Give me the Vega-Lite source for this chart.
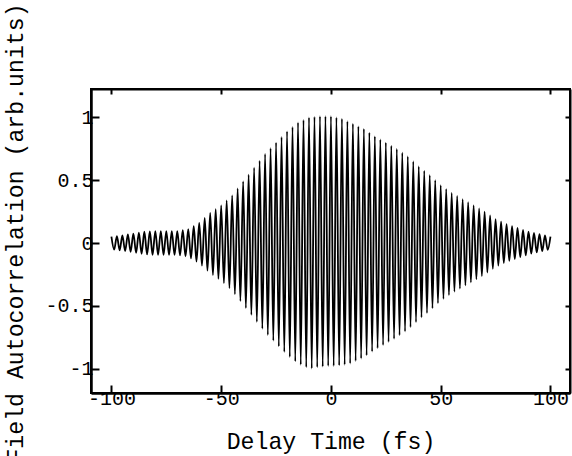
{
  "$schema": "https://vega.github.io/schema/vega-lite/v6.json",
  "width": 479,
  "height": 304,
  "autosize": {"type": "none"},
  "padding": {"left": 91, "top": 89, "right": 2, "bottom": 63},
  "background": "white",
  "config": {
    "view": {"stroke": "black", "strokeWidth": 2},
    "axis": {
      "domainColor": "black", "domainWidth": 2.5, "tickColor": "black", "tickWidth": 2,
      "grid": false, "labelFont": "Liberation Mono", "labelFontSize": 20, "labelColor": "black",
      "titleFont": "Liberation Mono", "titleFontSize": 23.2, "titleFontWeight": "normal", "titleColor": "black"
    }
  },
  "data": {"values": [
    {"t":-100,"v":0.05},{"t":-98.75,"v":-0.053},{"t":-97.5,"v":0.055},{"t":-96.25,"v":-0.058},
    {"t":-95,"v":0.06},{"t":-93.75,"v":-0.064},{"t":-92.5,"v":0.068},{"t":-91.25,"v":-0.071},
    {"t":-90,"v":0.075},{"t":-88.75,"v":-0.079},{"t":-87.5,"v":0.083},{"t":-86.25,"v":-0.086},
    {"t":-85,"v":0.09},{"t":-83.75,"v":-0.091},{"t":-82.5,"v":0.093},{"t":-81.25,"v":-0.094},
    {"t":-80,"v":0.095},{"t":-78.75,"v":-0.095},{"t":-77.5,"v":0.095},{"t":-76.25,"v":-0.095},
    {"t":-75,"v":0.095},{"t":-73.75,"v":-0.095},{"t":-72.5,"v":0.095},{"t":-71.25,"v":-0.095},
    {"t":-70,"v":0.095},{"t":-68.75,"v":-0.099},{"t":-67.5,"v":0.103},{"t":-66.25,"v":-0.106},
    {"t":-65,"v":0.11},{"t":-63.75,"v":-0.123},{"t":-62.5,"v":0.135},{"t":-61.25,"v":-0.148},
    {"t":-60,"v":0.16},{"t":-58.75,"v":-0.18},{"t":-57.5,"v":0.2},{"t":-56.25,"v":-0.22},
    {"t":-55,"v":0.24},{"t":-53.75,"v":-0.255},{"t":-52.5,"v":0.27},{"t":-51.25,"v":-0.285},
    {"t":-50,"v":0.3},{"t":-48.75,"v":-0.32},{"t":-47.5,"v":0.34},{"t":-46.25,"v":-0.36},
    {"t":-45,"v":0.38},{"t":-43.75,"v":-0.408},{"t":-42.5,"v":0.435},{"t":-41.25,"v":-0.463},
    {"t":-40,"v":0.49},{"t":-38.75,"v":-0.518},{"t":-37.5,"v":0.545},{"t":-36.25,"v":-0.573},
    {"t":-35,"v":0.6},{"t":-33.75,"v":-0.628},{"t":-32.5,"v":0.655},{"t":-31.25,"v":-0.683},
    {"t":-30,"v":0.71},{"t":-28.75,"v":-0.733},{"t":-27.5,"v":0.755},{"t":-26.25,"v":-0.778},
    {"t":-25,"v":0.8},{"t":-23.75,"v":-0.823},{"t":-22.5,"v":0.845},{"t":-21.25,"v":-0.868},
    {"t":-20,"v":0.89},{"t":-18.75,"v":-0.908},{"t":-17.5,"v":0.925},{"t":-16.25,"v":-0.943},
    {"t":-15,"v":0.96},{"t":-13.75,"v":-0.97},{"t":-12.5,"v":0.98},{"t":-11.25,"v":-0.99},
    {"t":-10,"v":1.0},{"t":-8.75,"v":-1.0},{"t":-7.5,"v":1.005},{"t":-6.25,"v":-0.99},
    {"t":-5,"v":1.01},{"t":-3.75,"v":-0.985},{"t":-2.5,"v":1.01},{"t":-1.25,"v":-0.98},
    {"t":0,"v":1.01},{"t":1.25,"v":-0.98},{"t":2.5,"v":1.0},{"t":3.75,"v":-0.975},
    {"t":5,"v":0.99},{"t":6.25,"v":-0.97},{"t":7.5,"v":0.97},{"t":8.75,"v":-0.96},
    {"t":10,"v":0.95},{"t":11.25,"v":-0.94},{"t":12.5,"v":0.93},{"t":13.75,"v":-0.92},
    {"t":15,"v":0.91},{"t":16.25,"v":-0.895},{"t":17.5,"v":0.88},{"t":18.75,"v":-0.865},
    {"t":20,"v":0.85},{"t":21.25,"v":-0.838},{"t":22.5,"v":0.825},{"t":23.75,"v":-0.813},
    {"t":25,"v":0.8},{"t":26.25,"v":-0.788},{"t":27.5,"v":0.775},{"t":28.75,"v":-0.763},
    {"t":30,"v":0.75},{"t":31.25,"v":-0.735},{"t":32.5,"v":0.72},{"t":33.75,"v":-0.705},
    {"t":35,"v":0.69},{"t":36.25,"v":-0.67},{"t":37.5,"v":0.65},{"t":38.75,"v":-0.63},
    {"t":40,"v":0.61},{"t":41.25,"v":-0.593},{"t":42.5,"v":0.575},{"t":43.75,"v":-0.558},
    {"t":45,"v":0.54},{"t":46.25,"v":-0.52},{"t":47.5,"v":0.5},{"t":48.75,"v":-0.48},
    {"t":50,"v":0.46},{"t":51.25,"v":-0.445},{"t":52.5,"v":0.43},{"t":53.75,"v":-0.415},
    {"t":55,"v":0.4},{"t":56.25,"v":-0.388},{"t":57.5,"v":0.375},{"t":58.75,"v":-0.363},
    {"t":60,"v":0.35},{"t":61.25,"v":-0.338},{"t":62.5,"v":0.325},{"t":63.75,"v":-0.313},
    {"t":65,"v":0.3},{"t":66.25,"v":-0.288},{"t":67.5,"v":0.275},{"t":68.75,"v":-0.263},
    {"t":70,"v":0.25},{"t":71.25,"v":-0.235},{"t":72.5,"v":0.22},{"t":73.75,"v":-0.205},
    {"t":75,"v":0.19},{"t":76.25,"v":-0.18},{"t":77.5,"v":0.17},{"t":78.75,"v":-0.16},
    {"t":80,"v":0.15},{"t":81.25,"v":-0.143},{"t":82.5,"v":0.135},{"t":83.75,"v":-0.128},
    {"t":85,"v":0.12},{"t":86.25,"v":-0.113},{"t":87.5,"v":0.105},{"t":88.75,"v":-0.098},
    {"t":90,"v":0.09},{"t":91.25,"v":-0.085},{"t":92.5,"v":0.08},{"t":93.75,"v":-0.075},
    {"t":95,"v":0.07},{"t":96.25,"v":-0.065},{"t":97.5,"v":0.06},{"t":98.75,"v":-0.055},
    {"t":100,"v":0.05}
  ]},
  "layer": [
    {
      "mark": {"type": "line", "color": "black", "strokeWidth": 1.8, "interpolate": "monotone", "clip": true},
      "encoding": {
        "x": {"field": "t", "type": "quantitative", "scale": {"domain": [-109.3, 108.9], "nice": false, "zero": false},
          "axis": {"orient": "bottom", "values": [-100, -50, 0, 50, 100], "tickSize": -8, "labelPadding": 3, "labelBaseline": "top",
            "labelExpr": "toString(datum.value)", "labelFlush": false, "labelOverlap": false,
            "title": "Delay Time (fs)", "titleBaseline": "alphabetic", "titleY": 55}},
        "y": {"field": "v", "type": "quantitative", "scale": {"domain": [-1.195, 1.227], "nice": false, "zero": false},
          "axis": {"orient": "left", "values": [-1, -0.5, 0, 0.5, 1], "tickSize": -8, "labelPadding": 6,
            "labelExpr": "toString(datum.value)", "labelFlush": false, "labelOverlap": false,
            "title": "Field Autocorrelation (arb.units)", "titleAngle": -90, "titleAlign": "center", "titleBaseline": "alphabetic",
            "titleX": -69, "titleY": 143.5}}
      }
    },
    {
      "mark": {"type": "line", "strokeOpacity": 0},
      "encoding": {
        "x": {"field": "t", "type": "quantitative", "axis": {"orient": "top", "values": [-100, -50, 0, 50, 100], "tickSize": -5, "labels": false, "title": null, "domainWidth": 2}},
        "y": {"field": "v", "type": "quantitative", "axis": {"orient": "right", "values": [-1, -0.5, 0, 0.5, 1], "tickSize": -5, "labels": false, "title": null, "domainWidth": 2}}
      }
    }
  ],
  "resolve": {"axis": {"x": "independent", "y": "independent"}}
}
